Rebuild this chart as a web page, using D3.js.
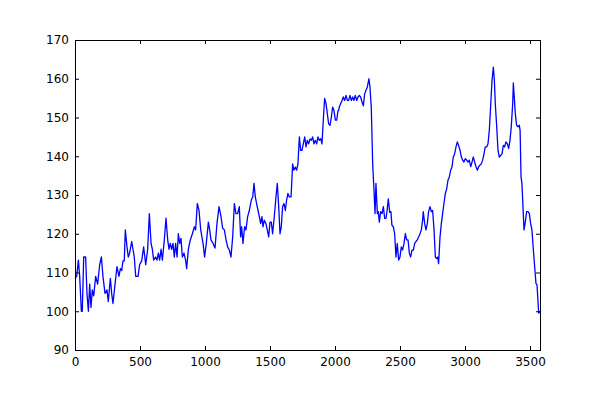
<!DOCTYPE html>
<html>
<head>
<meta charset="utf-8">
<script src="https://cdn.jsdelivr.net/npm/d3@7"></script>
<style>
  html, body { margin: 0; padding: 0; background: #ffffff; }
  svg { display: block; }
  text { font-family: "DejaVu Sans", sans-serif; }
</style>
</head>
<body>
<svg id="chart" width="600" height="400"></svg>
<script>
const xValues = [0,13,26,36,49,56,67,82,92,103,113,123,133,144,159,174,190,203,215,231,246,256,272,282,292,308,323,338,349,359,369,379,387,400,410,420,436,446,456,467,485,497,513,528,544,559,572,585,595,605,620,631,641,651,662,672,687,700,713,723,733,744,754,764,774,785,795,805,815,826,838,851,859,872,887,903,918,928,941,954,967,985,997,1010,1026,1036,1046,1062,1077,1092,1108,
1123,1136,1149,1162,1174,1187,1200,1213,1226,1238,1251,1264,1274,1282,1292,1305,1315,1328,1341,1356,1367,1377,1387,1397,1408,1418,1428,1438,1446,1456,1469,1479,1490,1500,1510,1520,1533,1546,1556,1567,1577,1587,1597,1608,1618,1628,1638,1649,1662,1674,1684,1695,1705,1715,1726,1736,1746,1756,1767,1777,1787,1797,1808,1818,1828,1838,1849,1859,1869,1879,1890,1900,1910,1920,1931,1941,1951,1962,1972,1982,1992,2003,2013,2023,2028,2033,2044,2054,2064,2074,2085,2095,2105,2115,2126,2136,2146,2156,2167,2177,2187,2197,2208,2218,2228,2238,2249,2254,2261,2269,2279,2290,2300,2308,2315,2326,2333,2341,2351,2362,2372,2382,2392,2400,2410,2421,2430,2438,2449,2459,2469,2479,2490,2500,2510,2520,2531,2541,2551,2562,2572,2582,2592,2603,2613,2623,2633,2644,2654,2664,2674,2679,2690,2700,2710,2720,2731,2741,2751,2762,2772,2782,2790,2797,2808,2818,2828,2838,2849,2859,2869,2879,2890,2900,2910,2920,2931,2941,2951,2962,2972,2982,2992,3003,3013,3023,3033,3044,3054,3064,3074,3085,3095,3105,3115,3126,3136,3146,3156,3167,3177,3187,3197,3208,3218,3226,3233,3244,3254,3264,3274,3285,3295,3305,3315,3326,3336,3346,3356,3367,3372,3379,3387,3397,3408,3418,3424,3431,3438,3446,3454,3464,3474,3485,3495,3505,3515,3526,3536,3546,3554,3561,3567,3577];
const yValues = [108.5,109,113.2,109,100,100,114,114,104.6,100,107,101,105.5,104,109,107,112,114,109,104.6,105.5,102.5,108.5,104.6,102,107,111.5,109,111,110.5,113,113,121,116.6,114,115,118,116,114,109,109,112,113,116.6,112,116,125.2,117.5,116,113.2,114,113.2,115,113.2,116,113.2,118.4,124,118.4,116,117.5,116,117.5,114,117.5,114,120,117.5,118.8,114,115,113.2,111,116,118.4,120,121.8,121,127.8,126,121,117.5,114,117.5,123,121,118.4,117.5,116.3,122.6,127,
124.4,121.4,121,118.4,116.6,115.8,114,119.2,127.8,125.2,125.2,127,119.2,121.8,117.5,121.8,121,124.4,126,128.7,129.5,133,129.5,127.8,126,124.4,122.6,124.4,121.8,123.5,122.6,121,119.2,123,123,120,124.4,129.5,133,127,120,121.8,127,127.8,126,128.7,130.4,129.5,129.5,138,136.4,137.2,136.4,138,145,141.5,141.5,143.2,145,142.4,144.1,143.2,144.5,144.1,145,143.2,144.1,143.2,145,144.1,144.5,143.2,149.3,154.9,153.6,151,148.4,148,150.1,152.7,151.8,149.3,149.3,151.8,151.8,152.7,153.6,154.4,155.3,154.4,155.7,154.4,154.4,155.7,154.4,155.3,154.4,155.7,154.4,155.3,155.7,155.3,154,153,156.1,157,157.9,158.8,160,157.9,152.7,138,131.2,125.2,133,125.2,125.7,123,125.7,125.2,127,124,124,125.7,129,125.5,125.7,122.2,121.8,120,114,117.5,113.2,114,116.6,115.8,117.5,120,118.4,118.4,115,114,115.8,115.8,117.5,118,118.4,119.2,120,121,123.5,125.7,122.6,121,122.6,125.7,127,125.7,126,121,114,113.6,114,112.3,119.2,122.6,125.2,127.8,130.4,131.6,133.8,134.6,136.4,137.2,139.8,140.6,142.4,143.7,142.8,141.5,139.8,139,138.5,139.4,139,138.5,139,137.3,138.5,139.8,138.5,137.3,136.4,137.3,137.7,138.1,139,140.6,142.4,142.4,143.2,146.6,152.7,159.6,163,159.6,153.6,147.6,141.5,139.8,140.2,140.6,142.8,142.4,143.7,143.2,142,144.1,147.6,153.6,158.9,155.3,151,148,147.6,148,146.6,134.7,133,127,121,123,125.7,125.7,125.2,122.6,121,115.8,111.5,107.2,106.8,102.9,99.5,100];
const xTicks = [0,500,1000,1500,2000,2500,3000,3500];
const yTicks = [90,100,110,120,130,140,150,160,170];

const data = xValues.map((v, i) => ({x: v, y: yValues[i]}));

const mLeft = 75, mRight = 540, mTop = 40, mBottom = 350;
const svg = d3.select("#chart");

const xScale = d3.scaleLinear().domain([0, 3577]).range([mLeft, mRight]);
const yScale = d3.scaleLinear().domain([90, 170]).range([mBottom, mTop]);

svg.append("path")
  .datum(data)
  .attr("fill", "none")
  .attr("stroke", "#0000ff")
  .attr("stroke-width", 1.3)
  .attr("stroke-linejoin", "round")
  .attr("d", d3.line().x(d => xScale(d.x)).y(d => yScale(d.y)));

function styleAxis(g) {
  g.select(".domain").remove();
  g.selectAll(".tick line").attr("stroke", "#000");
  g.selectAll("text").attr("font-size", 12).attr("fill", "#000")
    .attr("font-family", "DejaVu Sans, sans-serif");
}

const fmt = d3.format("d");
svg.append("g").attr("transform", `translate(0,${mBottom})`)
  .call(d3.axisBottom(xScale).tickValues(xTicks).tickFormat(fmt).tickSizeInner(-4).tickSizeOuter(0).tickPadding(7))
  .call(styleAxis);
svg.append("g").attr("transform", `translate(0,${mTop})`)
  .call(d3.axisTop(xScale).tickValues(xTicks).tickSizeInner(-4).tickSizeOuter(0).tickFormat(""))
  .call(styleAxis);
svg.append("g").attr("transform", `translate(${mLeft},0)`)
  .call(d3.axisLeft(yScale).tickValues(yTicks).tickFormat(fmt).tickSizeInner(-4).tickSizeOuter(0).tickPadding(6))
  .call(styleAxis);
svg.append("g").attr("transform", `translate(${mRight},0)`)
  .call(d3.axisRight(yScale).tickValues(yTicks).tickSizeInner(-4).tickSizeOuter(0).tickFormat(""))
  .call(styleAxis);

svg.append("rect")
  .attr("x", mLeft + 0.5).attr("y", mTop + 0.5)
  .attr("width", mRight - mLeft).attr("height", mBottom - mTop)
  .attr("fill", "none").attr("stroke", "#000").attr("stroke-width", 1);
</script>
</body>
</html>
